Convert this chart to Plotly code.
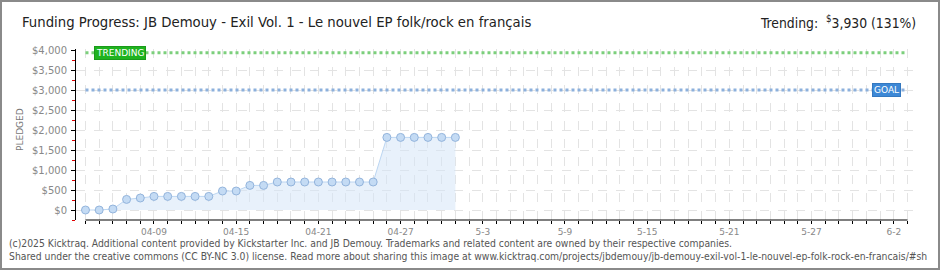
import plotly.graph_objects as go
import pandas as pd

# ---- data ----
dates = pd.date_range("2025-04-04", "2025-05-01", freq="D").strftime("%Y-%m-%d").tolist()
pledged = [0, 0, 25, 265, 300, 340, 340, 340, 340, 340, 475, 475, 615, 615,
           700, 700, 700, 700, 700, 700, 700, 700, 1815, 1815, 1815, 1815, 1815, 1815]
goal = 3000
trending = 3930
axis_start, axis_end = "2025-04-04", "2025-06-03"
tick_vals = ["2025-04-09", "2025-04-15", "2025-04-21", "2025-04-27", "2025-05-03",
             "2025-05-09", "2025-05-15", "2025-05-21", "2025-05-27", "2025-06-02"]
tick_text = ["04-09", "04-15", "04-21", "04-27", "5-3", "5-9", "5-15", "5-21", "5-27", "6-2"]

W, H = 940, 270
L, R, T, B = 76, 25, 49, 50
PW, PH = W - L - R, H - T - B

def px_x(px):
    return (px - L) / PW

def px_y(py):
    return (H - B - py) / PH

NARROW = "Liberation Sans Narrow, DejaVu Sans Condensed, sans-serif"
FONT = "DejaVu Sans, sans-serif"
DAY_MS = 86400000

fig = go.Figure()
fig.add_trace(go.Scatter(
    x=dates, y=pledged, mode="lines+markers",
    line=dict(color="#bcd6f2", width=1),
    fill="tozeroy", fillcolor="rgba(214,230,248,0.55)",
    marker=dict(size=8, color="#c4dbf4", line=dict(color="#93b4dc", width=1)),
    hoverinfo="x+y", showlegend=False,
))

shapes = [
    # x axis line
    dict(type="line", xref="x", yref="paper", x0=axis_start, x1=axis_end,
         y0=0, y1=0, line=dict(color="#000", width=1)),
    # trending line
    dict(type="line", xref="x", yref="y", x0=axis_start, x1=axis_end,
         y0=trending, y1=trending, line=dict(color="#7ccf7c", width=3, dash="dot")),
    # goal line
    dict(type="line", xref="x", yref="y", x0=axis_start, x1=axis_end,
         y0=goal, y1=goal, line=dict(color="#8cb0dc", width=3, dash="dot")),
    # outer frame
    dict(type="rect", xref="paper", yref="paper", x0=px_x(1), x1=px_x(939),
         y0=px_y(269), y1=px_y(1), line=dict(color="#8a8a8a", width=2)),
]

annotations = [
    dict(text="Funding Progress: JB Demouy - Exil Vol. 1 - Le nouvel EP folk/rock en français",
         xref="paper", yref="paper", x=px_x(20), y=px_y(22), xanchor="left", yanchor="middle",
         showarrow=False, font=dict(family=NARROW, size=14.75, color="#222")),
    dict(text="Trending:  <sup>$</sup>3,930 (131%)",
         xref="paper", yref="paper", x=px_x(918), y=px_y(22), xanchor="right", yanchor="middle",
         showarrow=False, font=dict(family=NARROW, size=13.8, color="#222")),
    dict(text="TRENDING", xref="x", yref="y", x="2025-04-06 12:00", y=trending,
         xanchor="center", yanchor="middle", showarrow=False,
         font=dict(family=FONT, size=9, color="#fff"),
         bgcolor="#1fb31f", bordercolor="#1a9a1a", borderwidth=1, borderpad=1),
    dict(text="GOAL", xref="x", yref="y", x="2025-06-01 12:00", y=goal,
         xanchor="center", yanchor="middle", showarrow=False,
         font=dict(family=FONT, size=9, color="#fff"),
         bgcolor="#3d88d6", bordercolor="#3478c0", borderwidth=1, borderpad=1),
    dict(text="PLEDGED", xref="paper", yref="paper", x=px_x(20), y=px_y(130),
         textangle=-90, xanchor="center", yanchor="middle", showarrow=False,
         font=dict(family=FONT, size=9, color="#777")),
    dict(text="(c)2025 Kicktraq. Additional content provided by Kickstarter Inc. and JB Demouy. Trademarks and related content are owned by their respective companies.",
         xref="paper", yref="paper", x=px_x(7), y=px_y(243), xanchor="left", yanchor="middle",
         showarrow=False, font=dict(family=NARROW, size=10.3, color="#555")),
    dict(text="Shared under the creative commons (CC BY-NC 3.0) license. Read more about sharing this image at www.kicktraq.com/projects/jbdemouy/jb-demouy-exil-vol-1-le-nouvel-ep-folk-rock-en-francais/#sh",
         xref="paper", yref="paper", x=px_x(7), y=px_y(256), xanchor="left", yanchor="middle",
         showarrow=False, font=dict(family=NARROW, size=10.3, color="#555")),
]

fig.update_layout(
    width=W, height=H,
    margin=dict(l=L, r=R, t=T, b=B, pad=0),
    paper_bgcolor="#fff", plot_bgcolor="#fff",
    shapes=shapes, annotations=annotations,
    xaxis=dict(type="date", range=["2025-04-03 07:22", "2025-06-03 13:12"],
               tickmode="array", tickvals=tick_vals, ticktext=tick_text,
               ticks="outside", ticklen=3, tickcolor="#000", showline=False,
               showgrid=True, gridcolor="#e3e3e3", griddash="dash", gridwidth=1,
               zeroline=False, tickangle=0,
               minor=dict(tick0=axis_start, dtick=DAY_MS, ticks="outside", ticklen=3,
                          tickcolor="#000", showgrid=True, gridcolor="#e3e3e3",
                          griddash="dash", gridwidth=1),
               tickfont=dict(family=FONT, size=9, color="#888")),
    yaxis=dict(range=[-250, 4025], tickmode="linear", tick0=0, dtick=500,
               tickprefix="$", tickformat=",.0f",
               ticks="outside", ticklen=4, tickcolor="#000", ticklabelstandoff=2,
               showline=True, linecolor="#000", linewidth=1,
               showgrid=True, gridcolor="#e3e3e3", griddash="dash", gridwidth=1,
               zeroline=False,
               minor=dict(dtick=250, tick0=0, ticks="outside", ticklen=3, tickcolor="#e00000",
                          showgrid=False),
               tickfont=dict(family=FONT, size=10, color="#888")),
)

fig.write_html("out.html")
